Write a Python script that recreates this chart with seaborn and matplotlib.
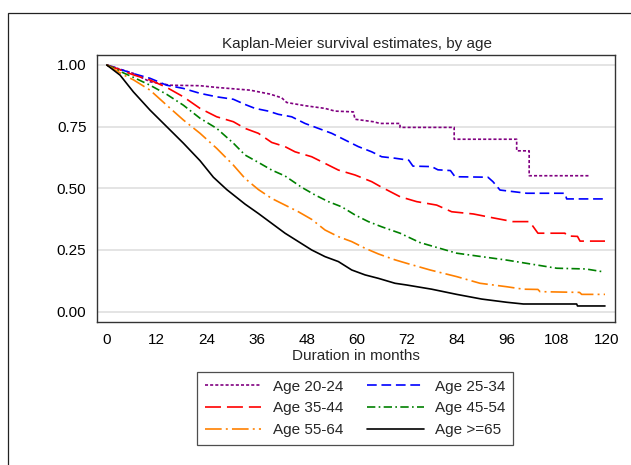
import matplotlib
matplotlib.use("Agg")
import matplotlib.pyplot as plt
import seaborn as sns
import pandas as pd
from matplotlib.lines import Line2D
from matplotlib.patches import Rectangle

# ---- data ----
groups = ["Age 20-24", "Age 25-34", "Age 35-44", "Age 45-54", "Age 55-64", "Age >=65"]

t_20_24 = [0, 6.4, 10.4, 15.2, 22.4, 26.4, 34.4, 39.2, 42, 43.2, 47.6, 52.4, 54.8, 59.2, 59.6, 64, 65.6,
           70.4, 70.4, 83.4, 83.4, 98.4, 98.4, 101.4, 101.4, 115.8]
s_20_24 = [1, 0.966, 0.932, 0.918, 0.916, 0.909, 0.898, 0.882, 0.867, 0.848, 0.835, 0.824, 0.813, 0.81, 0.78, 0.77, 0.763,
           0.763, 0.747, 0.747, 0.699, 0.699, 0.652, 0.652, 0.551, 0.551]

t_25_34 = [0, 2, 4, 6.4, 10.4, 14.4, 18.4, 22.4, 26.4, 30.4, 33.2, 35.6, 38.8, 41.2, 44.4, 47.6, 50.8, 54,
           57.2, 60.4, 63.6, 66, 69.2, 72.5, 73.5, 78, 79.5, 82.5, 83.6, 91.5, 92.7, 94.4, 100.8, 110, 110.4, 119.6]
s_25_34 = [1, 0.99, 0.978, 0.965, 0.946, 0.918, 0.905, 0.885, 0.871, 0.861, 0.84, 0.824, 0.813, 0.80, 0.79, 0.763, 0.743, 0.723,
           0.696, 0.669, 0.648, 0.628, 0.622, 0.614, 0.59, 0.588, 0.575, 0.572, 0.547, 0.545, 0.527, 0.493, 0.48, 0.48, 0.457, 0.457]

t_35_44 = [0, 2, 4, 6.4, 10.4, 14.4, 18.4, 22.4, 26.4, 30.4, 33.2, 36.4, 39.6, 42.8, 45.2, 49.2, 52.4, 55.6,
           59.6, 63.6, 65.6, 70.4, 74.4, 79.2, 82.8, 88, 92.8, 97.5, 101.5, 103.5, 110, 110.4, 113, 113.6, 119.6]
s_35_44 = [1, 0.988, 0.975, 0.96, 0.939, 0.909, 0.871, 0.824, 0.79, 0.77, 0.743, 0.723, 0.686, 0.669, 0.648, 0.628, 0.601, 0.574,
           0.554, 0.527, 0.508, 0.466, 0.446, 0.432, 0.405, 0.396, 0.38, 0.365, 0.365, 0.318, 0.318, 0.307, 0.305, 0.286, 0.286]

t_45_54 = [0, 2, 4, 6.4, 10.4, 14.4, 18.4, 22.4, 26.4, 30.4, 33.2, 36.4, 39.6, 42.8, 46.8, 50, 53.2, 56.4,
           59.6, 62.8, 66, 70.4, 75.2, 84, 96, 108, 115, 119]
s_45_54 = [1, 0.985, 0.968, 0.95, 0.918, 0.881, 0.837, 0.784, 0.743, 0.683, 0.635, 0.605, 0.574, 0.550, 0.504, 0.473, 0.446, 0.425,
           0.392, 0.365, 0.344, 0.318, 0.28, 0.237, 0.209, 0.176, 0.173, 0.162]

t_55_64 = [0, 2, 4, 6.4, 10.4, 14.4, 18.4, 22.4, 26.4, 30.4, 33.2, 36.4, 39.6, 42.8, 46, 49.2, 52.4, 55.6,
           58.8, 62, 65.2, 69.2, 72, 77.6, 84, 89.6, 96, 100, 103.5, 104, 113.5, 114, 119.6]
s_55_64 = [1, 0.98, 0.96, 0.94, 0.898, 0.837, 0.777, 0.723, 0.662, 0.594, 0.54, 0.495, 0.459, 0.432, 0.405, 0.374, 0.331, 0.304,
           0.284, 0.257, 0.234, 0.21, 0.196, 0.169, 0.142, 0.115, 0.101, 0.091, 0.09, 0.081, 0.078, 0.07, 0.07]

t_65 = [0, 0.8, 3.2, 6.4, 10.4, 14.4, 18.4, 22.4, 25.6, 28.8, 33.2, 36.4, 39.6, 42.8, 46, 49.2, 52.4, 55.6,
        58.8, 62, 65.2, 69.2, 72, 78, 84, 90, 96, 100, 112.8, 113, 119.6]
s_65 = [1, 0.99, 0.959, 0.891, 0.817, 0.75, 0.683, 0.612, 0.545, 0.495, 0.436, 0.398, 0.358, 0.318, 0.284, 0.25, 0.223, 0.203,
        0.169, 0.149, 0.135, 0.115, 0.108, 0.091, 0.07, 0.051, 0.038, 0.031, 0.031, 0.023, 0.023]

x_ticks = [0, 12, 24, 36, 48, 60, 72, 84, 96, 108, 120]
y_ticks = [0.0, 0.25, 0.5, 0.75, 1.0]
y_tick_labels = ["0.00", "0.25", "0.50", "0.75", "1.00"]

series_t = [t_20_24, t_25_34, t_35_44, t_45_54, t_55_64, t_65]
series_s = [s_20_24, s_25_34, s_35_44, s_45_54, s_55_64, s_65]

frames = []
for g, tt, ss in zip(groups, series_t, series_s):
    frames.append(pd.DataFrame({"time": tt, "surv": ss, "group": g}))
df = pd.concat(frames, ignore_index=True)

# ---- style ----
sns.set_style("white")
plt.rcParams["font.family"] = ["Liberation Sans", "DejaVu Sans"]
plt.rcParams["lines.scale_dashes"] = False

colors = ["#800080", "#0000ff", "#ff0000", "#008000", "#ff8000", "#000000"]
styles = [(0, (2.2, 1.5)), (0, (7.0, 3.4)), (0, (11.5, 4.3)), (0, (6.0, 2.4, 1.2, 2.4)),
          (0, (12.0, 3.0, 1.4, 3.0)), "-"]

fig = plt.figure(figsize=(6.31, 4.65), dpi=100)
ax = fig.add_axes([97 / 631, 1 - 322 / 465, (615 - 97) / 631, (322 - 55) / 465])

for y in y_ticks:
    ax.axhline(y, color="#dcdcdc", lw=1.1, zorder=0)

for g, c, ls in zip(groups, colors, styles):
    sub = df[df["group"] == g]
    sns.lineplot(data=sub, x="time", y="surv", estimator=None, sort=False, color=c,
                 linestyle=ls, lw=1.2, ax=ax, legend=False)

ax.set_xlim(-2.33, 122.0)
ax.set_ylim(-0.042, 1.0405)
ax.set_xticks(x_ticks)
ax.set_xticklabels([str(v) for v in x_ticks])
ax.set_yticks(y_ticks)
ax.set_yticklabels(y_tick_labels)
ax.tick_params(axis="both", direction="out", length=3.6, width=0.9, color="#333333",
               labelsize=11, pad=4, labelcolor="black")
ax.tick_params(axis="x", pad=4.5)
for sp in ax.spines.values():
    sp.set_color("#333333")
    sp.set_linewidth(1.0)
ax.set_xlabel("Duration in months", fontsize=11, labelpad=1)
ax.set_ylabel("")

fig.text(357 / 631, 1 - 44 / 465, "Kaplan-Meier survival estimates, by age",
         ha="center", va="center", fontsize=11)

# legend filled row by row, as in the reference
order = [0, 2, 4, 1, 3, 5]
handles = [Line2D([], [], color=colors[i], linestyle=styles[i], lw=1.2) for i in order]
labels = [groups[i] for i in order]
leg = fig.legend(handles, labels, ncol=2, loc="upper left",
                 bbox_to_anchor=(197 / 631, 1 - 372 / 465), bbox_transform=fig.transFigure,
                 fontsize=11, frameon=True, fancybox=False, handlelength=3.7,
                 handletextpad=0.75, columnspacing=1.6, labelspacing=0.5,
                 borderpad=0.5, borderaxespad=0)
leg.get_frame().set_edgecolor("#222222")
leg.get_frame().set_linewidth(0.9)

# outer graph-region frame (partly cropped in the reference)
fig.patches.append(Rectangle((8 / 631, -0.2), 2.0, 1.2 - 13 / 465, transform=fig.transFigure,
                             fill=False, edgecolor="#222222", lw=0.9))

fig.savefig("out.png", dpi=100, facecolor="white")
